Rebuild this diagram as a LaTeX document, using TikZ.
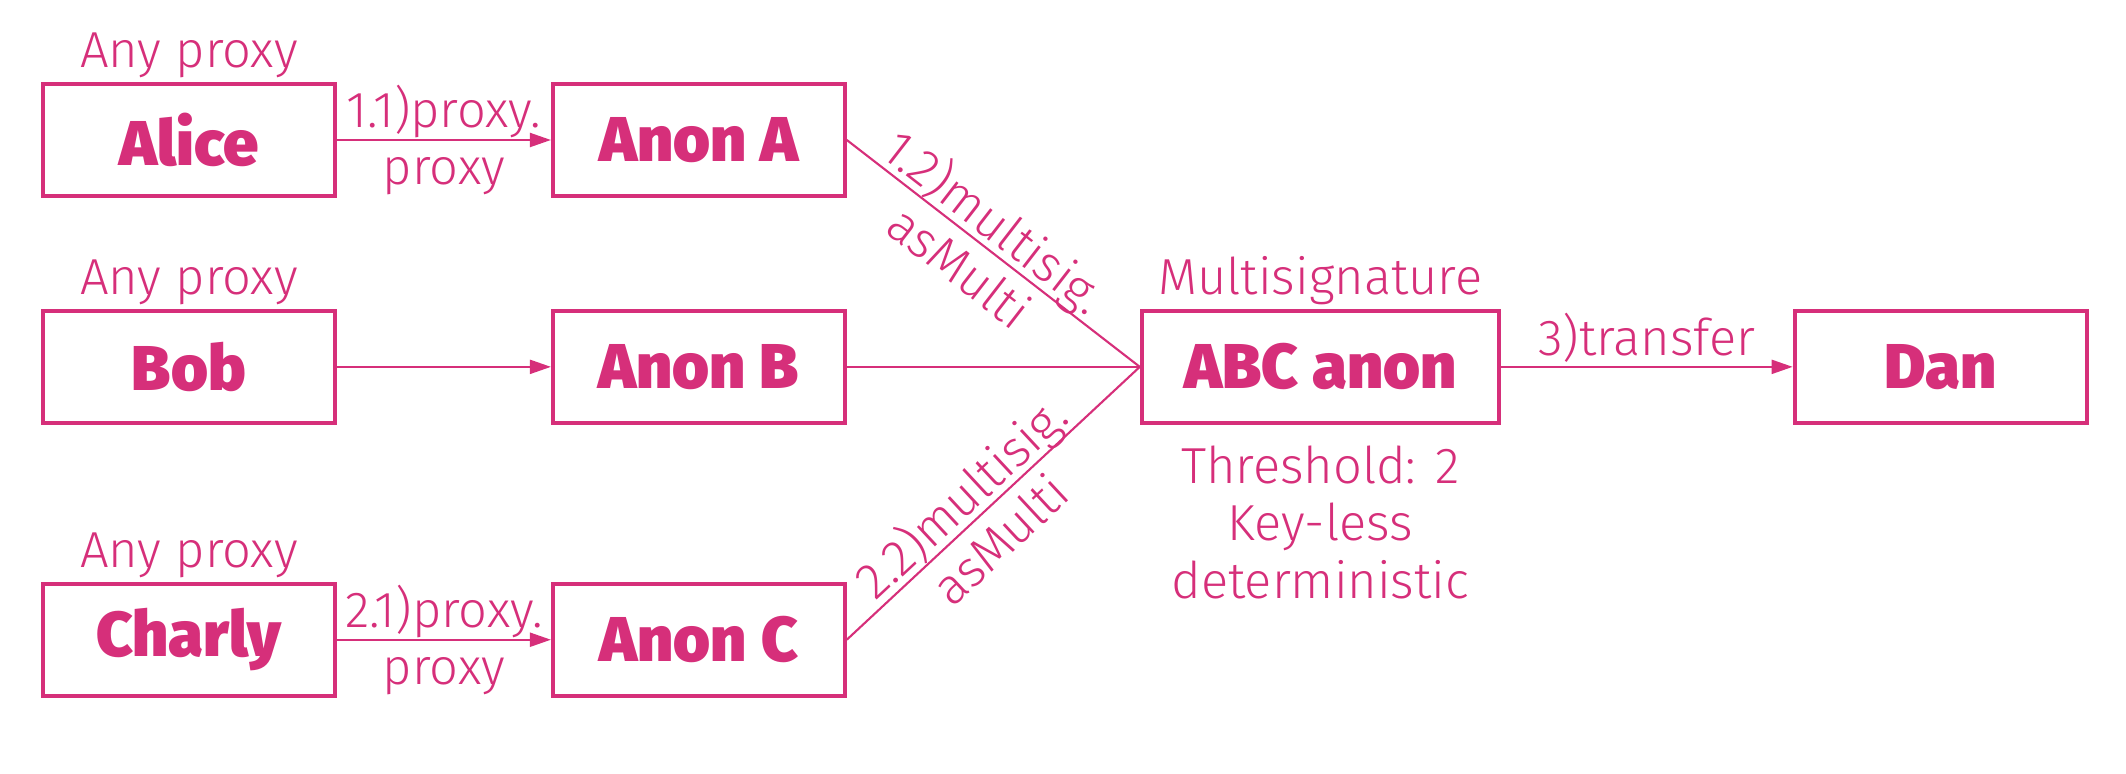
\documentclass[tikz,border=0pt]{standalone}
\usepackage{fontspec}
\setmainfont{Fira Sans}[UprightFont=* Light, BoldFont=* Black]
\usepackage{tikz}
\usepackage{xcolor}
\usetikzlibrary{positioning,arrows.meta}
\definecolor{sigpink}{HTML}{D62F7A}
\tikzset{
  acct/.style={
    draw=sigpink, line width=1.1pt, minimum width=29.2mm, minimum height=11.2mm,
    inner sep=0pt, text=sigpink, font=\fontsize{18}{20}\selectfont\bfseries,
  },
  note/.style ={font=\fontsize{14.4}{16.3}\selectfont, text=sigpink, align=center, inner sep=1pt},
  flow/.style ={-{Triangle[length=6pt, width=4pt]}, draw=sigpink, line width=0.6pt},
  link/.style ={draw=sigpink, line width=0.6pt},
}

\begin{document}
\begin{tikzpicture}
\useasboundingbox (0,0) rectangle (21.26,-7.74);

% signers and their anonymous proxies
\node[acct] (alice) at (1.89,-1.40) {Alice};
\node[acct, right=21.4mm of alice] (anona) {Anon A};

\node[acct, below=11.1mm of alice] (bob) {Bob};
\node[acct, right=21.4mm of bob] (anonb) {Anon B};

\node[acct, below=15.7mm of bob] (charly) {Charly};
\node[acct, right=21.4mm of charly] (anonc) {Anon C};

% multisig account and receiver
\node[acct, right=29.3mm of anonb, minimum width=35.7mm] (abc) {ABC anon};
\node[acct, right=29.2mm of abc] (dan) {Dan};

% annotations
\node[note, above=0pt of alice] (anyA) {Any proxy};
\node[note, above=0pt of bob] (anyB) {Any proxy};
\node[note, above=0pt of charly] (anyC) {Any proxy};
\node[note, above=0pt of abc] (msig) {Multisignature};
\node[note, below=1.7mm of abc] (thr) {Threshold: 2\\Key-less\\deterministic};

% edges
\draw[flow] (alice) -- node[note] {1.1)proxy.\\proxy} (anona);
\draw[flow] (bob) -- (anonb);
\draw[flow] (charly) -- node[note] {2.1)proxy.\\proxy} (anonc);

\draw[link] (anona.east) -- node[note, sloped, pos=0.45] {1.2)multisig.\\asMulti} (abc.west);
\draw[link] (anonb.east) -- (abc.west);
\draw[link] (anonc.east) -- node[note, sloped, pos=0.45] {2.2)multisig.\\asMulti} (abc.west);

\draw[flow] (abc) -- node[note, above] {3)transfer} (dan);

\end{tikzpicture}
\end{document}
